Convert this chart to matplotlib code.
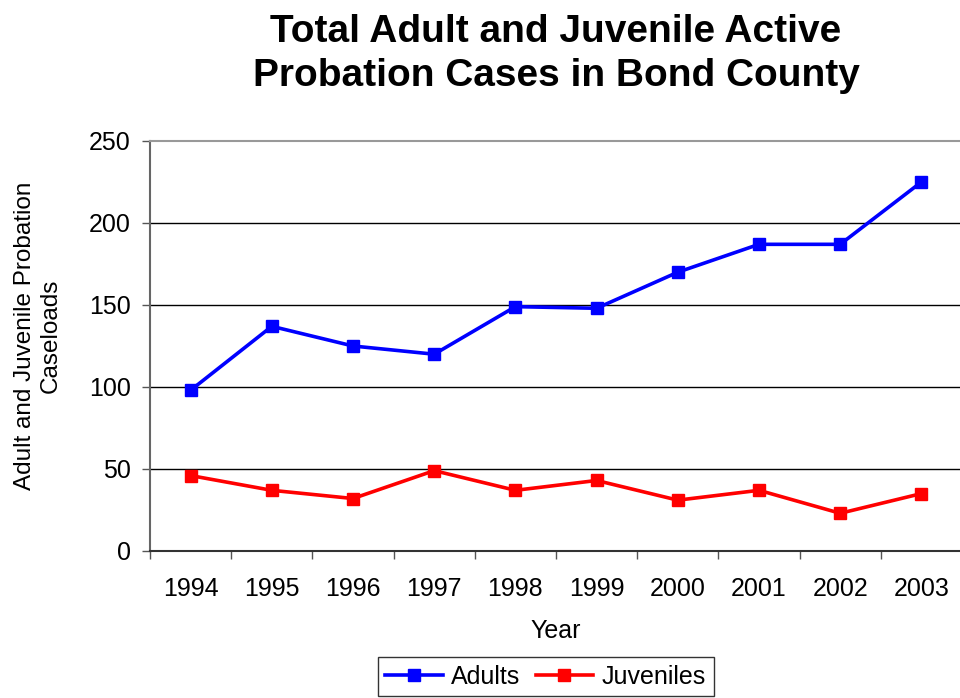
import matplotlib
matplotlib.use("Agg")
import matplotlib.pyplot as plt
import numpy as np

# Donnees
years = ["1994", "1995", "1996", "1997", "1998", "1999", "2000", "2001", "2002", "2003"]
adults = [98, 137, 125, 120, 149, 148, 170, 187, 187, 225]
juveniles = [46, 37, 32, 49, 37, 43, 31, 37, 23, 35]

plt.rcParams['font.family'] = ['Liberation Sans', 'DejaVu Sans']

fig = plt.figure(figsize=(9.6, 6.98), dpi=100)
ax = fig.add_axes([150/960, 1 - 551/698, 812/960, 410/698])

x = np.arange(len(years))
ax.plot(x, adults, color='#0000FF', lw=2.6, marker='s', ms=8, label='Adults')
ax.plot(x, juveniles, color='#FF0000', lw=2.6, marker='s', ms=8, label='Juveniles')

ax.set_xlim(-0.5, len(years) - 0.5)
ax.set_ylim(0, 250)
ax.set_yticks([0, 50, 100, 150, 200, 250])
for v in [50, 100, 150, 200]:
    ax.axhline(v, color='black', lw=1.0, zorder=0)

# ticks aux frontieres, etiquettes au centre des categories
ax.set_xticks(np.arange(-0.5, len(years), 1.0))
ax.set_xticklabels([])
ax.set_xticks(x, minor=True)
ax.set_xticklabels(years, minor=True)
ax.tick_params(axis='x', which='major', length=6, width=1, color='#555555', direction='out')
ax.tick_params(axis='x', which='minor', length=0, pad=19, labelsize=18)
ax.tick_params(axis='y', length=6, width=1, color='#555555', direction='out', pad=8, labelsize=18)

ax.spines['right'].set_visible(False)
ax.spines['top'].set_color('#999999')
ax.spines['top'].set_linewidth(1.5)
ax.spines['left'].set_color('#666666')
ax.spines['left'].set_linewidth(1.5)
ax.spines['bottom'].set_color('#333333')
ax.spines['bottom'].set_linewidth(1.5)

fig.text(556/960, 1 - 54/698, "Total Adult and Juvenile Active\nProbation Cases in Bond County",
         ha='center', va='center', fontsize=28, fontweight='bold', linespacing=1.25)
fig.text(38/960, 1 - 336/698, "Adult and Juvenile Probation\nCaseloads", rotation=90,
         ha='center', va='center', fontsize=17.5, multialignment='center', linespacing=1.2)
fig.text(556/960, 1 - 631/698, "Year", ha='center', va='center', fontsize=18)

leg = fig.legend(loc='upper center', bbox_to_anchor=(545.5/960, 1 - 657/698), ncol=2,
                 fontsize=18, frameon=True, fancybox=False, handlelength=2.3,
                 handletextpad=0.35, columnspacing=0.6, borderpad=0.3, borderaxespad=0)
leg.get_frame().set_edgecolor('black')
leg.get_frame().set_linewidth(1.0)

fig.savefig("out.png", dpi=100)
